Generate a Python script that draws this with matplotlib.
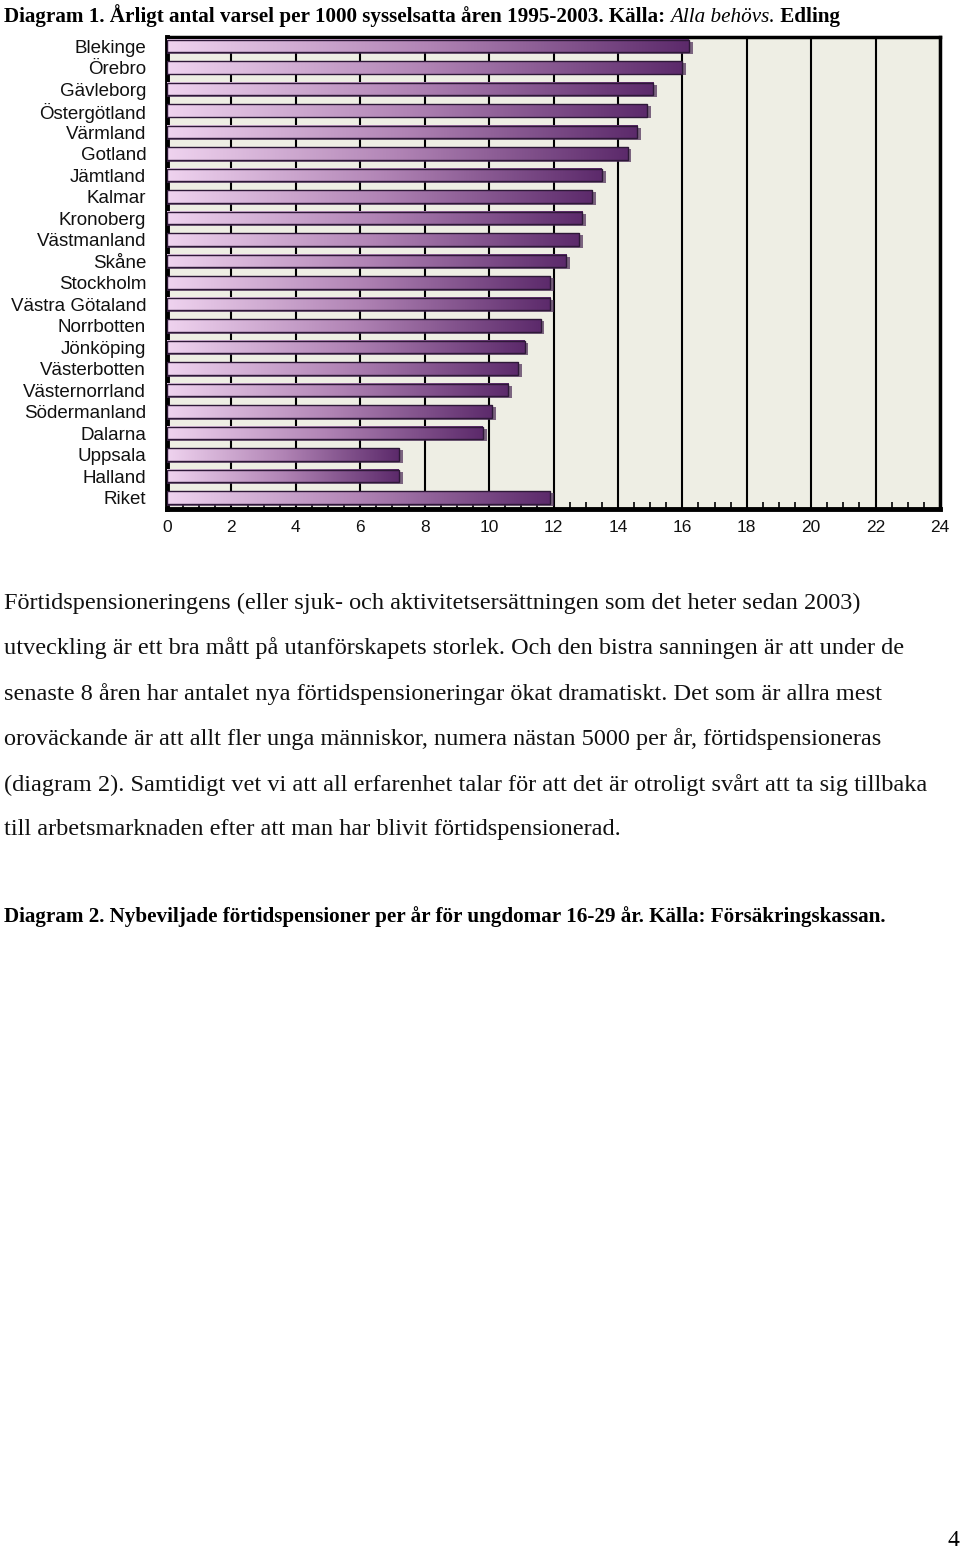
import matplotlib.pyplot as plt
import numpy as np
from matplotlib.colors import LinearSegmentedColormap
from matplotlib.ticker import MultipleLocator

# data (varsel per 1000 sysselsatta)
regions = ['Blekinge', 'Örebro', 'Gävleborg', 'Östergötland', 'Värmland', 'Gotland',
           'Jämtland', 'Kalmar', 'Kronoberg', 'Västmanland', 'Skåne', 'Stockholm',
           'Västra Götaland', 'Norrbotten', 'Jönköping', 'Västerbotten',
           'Västernorrland', 'Södermanland', 'Dalarna', 'Uppsala', 'Halland', 'Riket']
values = [16.2, 16.0, 15.1, 14.9, 14.6, 14.3, 13.5, 13.2, 12.9, 12.8, 12.4, 11.9,
          11.9, 11.6, 11.1, 10.9, 10.6, 10.1, 9.8, 7.2, 7.2, 11.9]
xticks = list(range(0, 25, 2))

title_bold = 'Diagram 1. Årligt antal varsel per 1000 sysselsatta åren 1995-2003. Källa: '
title_ital = 'Alla behövs.'
title_end = ' Edling'

paragraph = [
    'Förtidspensioneringens (eller sjuk- och aktivitetsersättningen som det heter sedan 2003)',
    'utveckling är ett bra mått på utanförskapets storlek. Och den bistra sanningen är att under de',
    'senaste 8 åren har antalet nya förtidspensioneringar ökat dramatiskt. Det som är allra mest',
    'oroväckande är att allt fler unga människor, numera nästan 5000 per år, förtidspensioneras',
    '(diagram 2). Samtidigt vet vi att all erfarenhet talar för att det är otroligt svårt att ta sig tillbaka',
    'till arbetsmarknaden efter att man har blivit förtidspensionerad.',
]
diagram2 = 'Diagram 2. Nybeviljade förtidspensioner per år för ungdomar 16-29 år. Källa: Försäkringskassan.'

W, H = 960, 1551
fig = plt.figure(figsize=(W / 100, H / 100), dpi=100)
fig.patch.set_facecolor('white')

# plot area in pixels
left, right, top, bottom = 167, 940, 37, 509
ax = fig.add_axes([left / W, 1 - bottom / H, (right - left) / W, (bottom - top) / H])
ax.set_facecolor('#eeeee4')

cmap = LinearSegmentedColormap.from_list('purp', ['#efd3ef', '#b184b5', '#5c2a6b'])
grad = np.linspace(0, 1, 256).reshape(1, -1)
h = 0.58
for i, v in enumerate(values):
    # shadow
    ax.add_patch(plt.Rectangle((0, i - h / 2 + 0.08), v + 0.12, h, color='#4a2a55',
                               alpha=0.7, zorder=3, lw=0))
    ax.imshow(grad, cmap=cmap, aspect='auto', extent=[0, v, i + h / 2, i - h / 2],
              zorder=4, interpolation='bilinear')
    ax.add_patch(plt.Rectangle((0, i - h / 2), v, h, fill=False, ec='#2e1838',
                               lw=1.0, zorder=5))

ax.set_xlim(0, 24)
ax.set_ylim(21.53, -0.42)
ax.set_xticks(xticks)
ax.xaxis.set_minor_locator(MultipleLocator(0.5))
ax.tick_params(axis='x', which='major', length=0, pad=8, labelsize=12.5)
ax.tick_params(axis='x', which='minor', direction='in', length=5, width=1.2, color='black')
ax.set_yticks(range(len(regions)))
ax.set_yticklabels(regions)
ax.tick_params(axis='y', length=0, pad=15, labelsize=13.5)
for lab in ax.get_xticklabels() + ax.get_yticklabels():
    lab.set_fontfamily('Liberation Sans')
    lab.set_color('#111111')
ax.grid(axis='x', which='major', color='black', lw=1.5, zorder=1)
ax.set_axisbelow(True)
ax.spines['left'].set_linewidth(3.5)
ax.spines['bottom'].set_linewidth(3.5)
ax.spines['top'].set_linewidth(2.5)
ax.spines['right'].set_linewidth(2.5)

# title with mixed styles, chained piece by piece
t1 = fig.text(4 / W, 1 - 16 / H, title_bold, family='Liberation Serif', weight='bold',
              fontsize=15.2, va='center', ha='left')
t2 = plt.annotate(title_ital, xy=(1, 0), xycoords=t1, va='bottom', ha='left',
                  family='Liberation Serif', style='italic', fontsize=15.2,
                  annotation_clip=False)
t3 = plt.annotate(title_end, xy=(1, 0), xycoords=t2, va='bottom', ha='left',
                  family='Liberation Serif', weight='bold', fontsize=15.2,
                  annotation_clip=False)

ys = [603, 648, 694, 739, 785, 830]
for y, line in zip(ys, paragraph):
    fig.text(4 / W, 1 - y / H, line, family='Liberation Serif', fontsize=17.5,
             va='center', ha='left', color='#111111')

fig.text(4 / W, 1 - 917 / H, diagram2, family='Liberation Serif', weight='bold',
         fontsize=15.2, va='center', ha='left')
fig.text(953 / W, 1 - 1540 / H, '4', family='Liberation Serif', fontsize=17,
         va='center', ha='center')

fig.savefig('out.png', dpi=100)
